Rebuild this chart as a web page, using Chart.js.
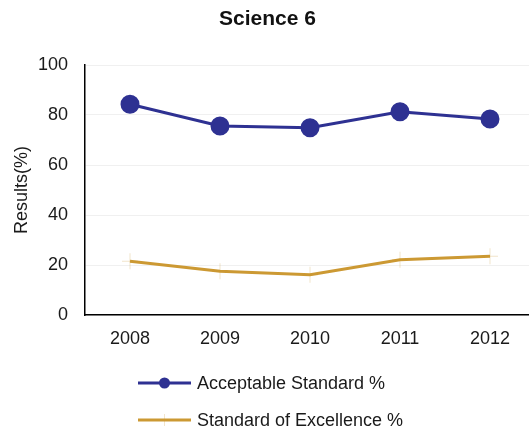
<!DOCTYPE html>
<html>
<head>
<meta charset="utf-8">
<script src="https://cdn.jsdelivr.net/npm/chart.js@4/dist/chart.umd.min.js"></script>
<style>
  html, body { margin: 0; padding: 0; background: #fff; overflow: hidden; }
  #wrap { width: 536px; height: 433px; }
</style>
</head>
<body>
<div id="wrap"><canvas id="chart" width="536" height="433"></canvas></div>
<script>
// Dados
const anos = ['2008', '2009', '2010', '2011', '2012'];
const aceitavel = [84.3, 75.6, 74.9, 81.3, 78.4];
const excelencia = [21.5, 17.5, 16.1, 22.1, 23.5];
const nomesSeries = ['Acceptable Standard %', 'Standard of Excellence %'];
const yTicks = [0, 20, 40, 60, 80, 100];

const AZUL = '#2E3192';
const OURO = '#CC9933';
const FONTE = "'Liberation Sans', Arial, sans-serif";

// Legenda desenhada à mão (uma linha por série, alinhada à esquerda)
const legendaManual = {
  id: 'legendaManual',
  afterDraw(chart) {
    const ctx = chart.ctx;
    const x0 = 138, x1 = 191, xt = 197;
    const linhas = [383, 420];
    chart.data.datasets.forEach((ds, i) => {
      const y = linhas[i];
      ctx.save();
      ctx.strokeStyle = ds.borderColor;
      ctx.lineWidth = 3;
      ctx.beginPath();
      ctx.moveTo(x0, y);
      ctx.lineTo(x1, y);
      ctx.stroke();
      const mx = (x0 + x1) / 2;
      if (ds.pointStyle === 'circle') {
        ctx.fillStyle = ds.pointBackgroundColor;
        ctx.beginPath();
        ctx.arc(mx, y, 5.5, 0, Math.PI * 2);
        ctx.fill();
      } else {
        ctx.strokeStyle = ds.pointBorderColor;
        ctx.lineWidth = 1;
        ctx.beginPath();
        ctx.moveTo(mx, y - 6); ctx.lineTo(mx, y + 6);
        ctx.stroke();
      }
      ctx.fillStyle = '#1a1a1a';
      ctx.font = '18px ' + FONTE;
      ctx.textAlign = 'left';
      ctx.textBaseline = 'middle';
      ctx.fillText(ds.label, xt, y + 1);
      ctx.restore();
    });
  }
};

new Chart(document.getElementById('chart'), {
  type: 'line',
  data: {
    labels: anos,
    datasets: [
      {
        label: nomesSeries[0],
        data: aceitavel,
        borderColor: AZUL,
        borderWidth: 3,
        pointStyle: 'circle',
        pointRadius: 8,
        pointBackgroundColor: AZUL,
        pointBorderColor: AZUL,
        tension: 0
      },
      {
        label: nomesSeries[1],
        data: excelencia,
        borderColor: OURO,
        borderWidth: 3,
        pointStyle: 'cross',
        pointRadius: 8,
        pointBorderWidth: 1,
        pointBorderColor: 'rgba(204,153,51,0.25)',
        pointBackgroundColor: 'rgba(204,153,51,0.25)',
        tension: 0
      }
    ]
  },
  options: {
    responsive: false,
    animation: false,
    layout: { autoPadding: false, padding: { top: 0, right: 1, left: 0, bottom: 78 } },
    plugins: {
      legend: { display: false },
      tooltip: { enabled: false },
      title: {
        display: true,
        text: 'Science 6',
        color: '#111',
        font: { family: FONTE, size: 21, weight: 'bold' },
        padding: { top: 6.4, bottom: 33.4 }
      }
    },
    scales: {
      x: {
        offset: true,
        grid: { display: false, drawTicks: false },
        border: { color: '#000', width: 1.5 },
        ticks: { color: '#1a1a1a', padding: 13, font: { family: FONTE, size: 18 } },
        afterFit: (s) => { s.height = 40; s.paddingLeft = 0; s.paddingRight = 0; }
      },
      y: {
        min: 0,
        max: 100,
        afterBuildTicks: (s) => { s.ticks = yTicks.map(v => ({ value: v })); },
        grid: { color: '#f0f0f0', drawTicks: false },
        border: { color: '#000', width: 1.5 },
        ticks: { color: '#1a1a1a', padding: 17, font: { family: FONTE, size: 18 } },
        title: {
          display: true,
          text: 'Results(%)',
          color: '#1a1a1a',
          font: { family: FONTE, size: 18 },
          padding: { top: 11, bottom: 0 }
        },
        afterFit: (s) => { s.width = 85; }
      }
    }
  },
  plugins: [legendaManual]
});
</script>
</body>
</html>
